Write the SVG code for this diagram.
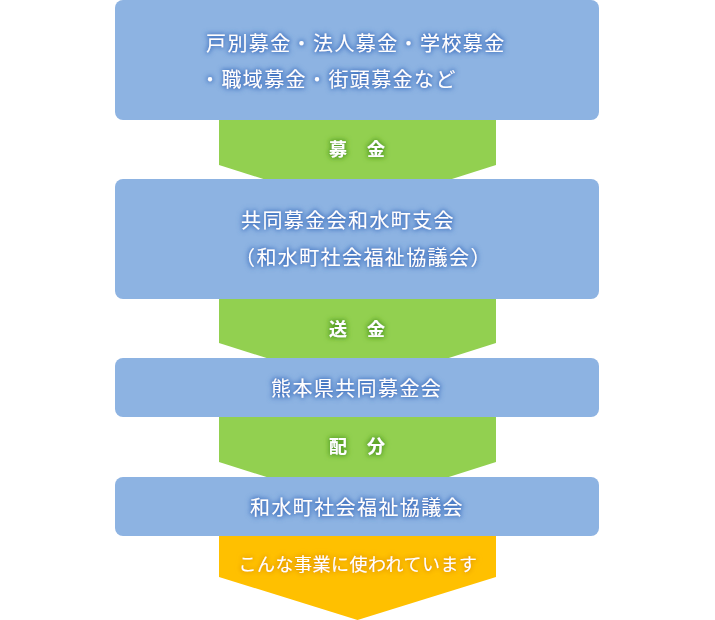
<svg xmlns="http://www.w3.org/2000/svg" width="715" height="620" viewBox="0 0 715 620">
<defs>
<style>
.box{fill:#8db3e2;}
.grn{fill:#92d050;}
.org{fill:#ffc000;}
text{font-family:"Noto Sans CJK JP","Noto Sans CJK SC",sans-serif;fill:#ffffff;}
.bt{font-size:20px;letter-spacing:1.4px;filter:url(#gb);}
.gt{font-size:18px;font-weight:bold;text-anchor:middle;letter-spacing:1px;filter:url(#gg);}
.ot{font-size:18px;text-anchor:middle;letter-spacing:0.5px;filter:url(#go);}
</style>
<filter id="gb" x="-20%" y="-50%" width="140%" height="200%">
<feMorphology in="SourceAlpha" operator="dilate" radius="1" result="d"/>
<feGaussianBlur in="d" stdDeviation="2.5" result="b"/>
<feFlood flood-color="#3f72c0" flood-opacity="0.9"/>
<feComposite in2="b" operator="in" result="s"/>
<feMerge><feMergeNode in="s"/><feMergeNode in="SourceGraphic"/></feMerge>
</filter>
<filter id="gg" x="-30%" y="-50%" width="160%" height="200%">
<feMorphology in="SourceAlpha" operator="dilate" radius="1" result="d"/>
<feGaussianBlur in="d" stdDeviation="2.5" result="b"/>
<feFlood flood-color="#4f9a1e" flood-opacity="0.9"/>
<feComposite in2="b" operator="in" result="s"/>
<feMerge><feMergeNode in="s"/><feMergeNode in="SourceGraphic"/></feMerge>
</filter>
<filter id="go" x="-20%" y="-50%" width="140%" height="200%">
<feMorphology in="SourceAlpha" operator="dilate" radius="1" result="d"/>
<feGaussianBlur in="d" stdDeviation="2.5" result="b"/>
<feFlood flood-color="#e8a000" flood-opacity="0.9"/>
<feComposite in2="b" operator="in" result="s"/>
<feMerge><feMergeNode in="s"/><feMergeNode in="SourceGraphic"/></feMerge>
</filter>
</defs>
<g id="connectors">
<g id="arrow-bokin">
<polygon class="grn" points="219,115 496,115 496,165 357.5,209 219,165"/>
<text class="gt" x="357.5" y="155.5">募　金</text>
</g>
<g id="arrow-soukin">
<polygon class="grn" points="219,294 496,294 496,343 357.5,387 219,343"/>
<text class="gt" x="357.5" y="335.5">送　金</text>
</g>
<g id="arrow-haibun">
<polygon class="grn" points="219,412 496,412 496,462 357.5,506 219,462"/>
<text class="gt" x="357.5" y="452.5">配　分</text>
</g>
<g id="arrow-jigyou">
<polygon class="org" points="219,531 496,531 496,577 357.5,620 219,577"/>
<text class="ot" x="358" y="570.5">こんな事業に使われています</text>
</g>
</g>
<g id="node-sources">
<rect class="box" x="115" y="0" width="484" height="120" rx="8"/>
<text class="bt" x="206" y="50.5">戸別募金・法人募金・学校募金</text>
<text class="bt" x="200" y="86.5">・職域募金・街頭募金など</text>
</g>
<g id="node-branch">
<rect class="box" x="115" y="179" width="484" height="120" rx="8"/>
<text class="bt" x="241" y="227.5">共同募金会和水町支会</text>
<text class="bt" x="235" y="265">（和水町社会福祉協議会）</text>
</g>
<g id="node-kumamoto">
<rect class="box" x="115" y="358" width="484" height="59" rx="8"/>
<text class="bt" x="271" y="395.5">熊本県共同募金会</text>
</g>
<g id="node-shakyo">
<rect class="box" x="115" y="477" width="484" height="59" rx="8"/>
<text class="bt" x="250" y="514.5">和水町社会福祉協議会</text>
</g>
</svg>
